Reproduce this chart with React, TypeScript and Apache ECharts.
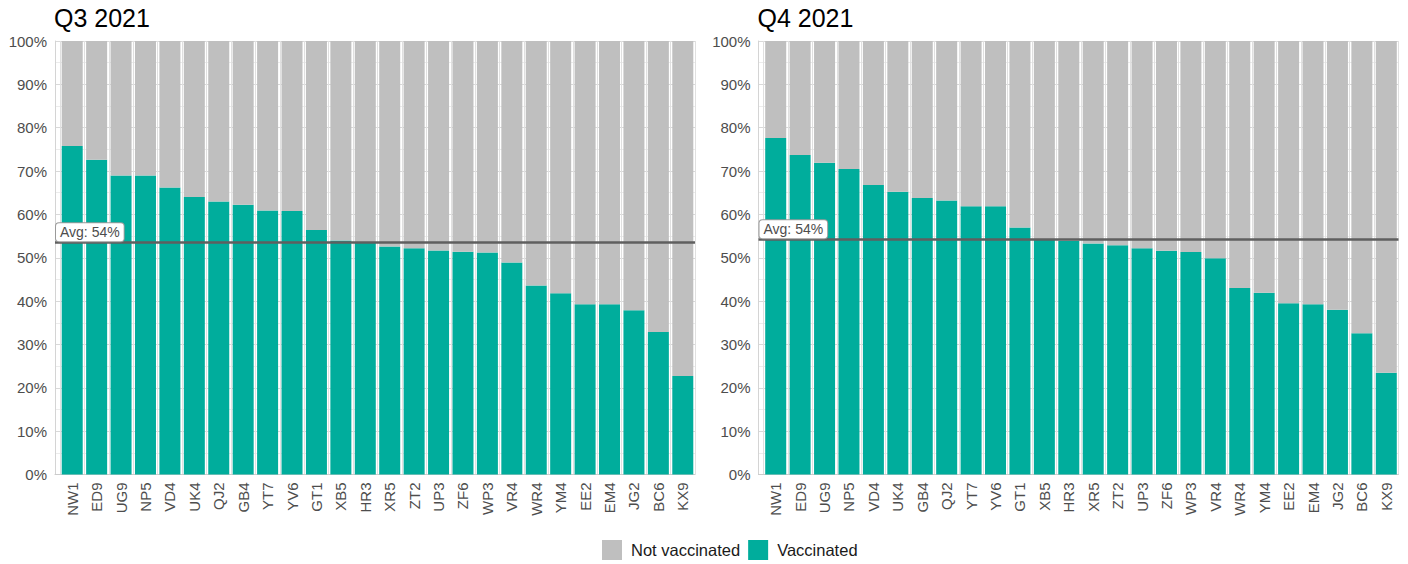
import React, { useEffect, useRef } from "react";
import * as echarts from "echarts";

const categoriesQ3 = ["NW1","ED9","UG9","NP5","VD4","UK4","QJ2","GB4","YT7","YV6","GT1","XB5","HR3","XR5","ZT2","UP3","ZF6","WP3","VR4","WR4","YM4","EE2","EM4","JG2","BC6","KX9"];
const vaccinatedQ3 = [75.8,72.6,69.0,69.0,66.2,64.0,63.0,62.2,60.9,60.8,56.4,54.0,53.5,52.6,52.2,51.7,51.4,51.2,48.9,43.6,41.8,39.3,39.3,37.9,32.9,22.7];

const categoriesQ4 = ["NW1","ED9","UG9","NP5","VD4","UK4","GB4","QJ2","YT7","YV6","GT1","XB5","HR3","XR5","ZT2","UP3","ZF6","WP3","VR4","WR4","YM4","EE2","EM4","JG2","BC6","KX9"];
const vaccinatedQ4 = [77.6,73.7,71.9,70.5,66.8,65.2,63.8,63.2,61.9,61.9,57.0,54.1,53.9,53.3,52.9,52.2,51.6,51.3,49.9,43.0,41.9,39.5,39.3,38.0,32.6,23.5];

const panelTitles = ["Q3 2021", "Q4 2021"];
const yTicks = [0, 10, 20, 30, 40, 50, 60, 70, 80, 90, 100];

const FONT = "'Liberation Sans', Arial, sans-serif";
const TEAL = "#00ad9c";
const GREY = "#bfbfbf";
const AXIS_TEXT = "#4d4d4d";

const complement = (arr: number[]) => arr.map((v) => Math.round((100 - v) * 10) / 10);
const mean = (arr: number[]) => arr.reduce((a, b) => a + b, 0) / arr.length;

export default function App() {
  const ref = useRef<HTMLDivElement>(null);
  useEffect(() => {
    if (!ref.current) return;
    const chart = echarts.init(ref.current, undefined, { renderer: "svg" });
    const panels = [
      { cats: categoriesQ3, vac: vaccinatedQ3, bgLeft: 55, barLeft: 60 },
      { cats: categoriesQ4, vac: vaccinatedQ4, bgLeft: 758.5, barLeft: 763.5 },
    ];
    const top = 41;
    const height = 433.5;
    const grids: any[] = [];
    const xAxes: any[] = [];
    const yAxes: any[] = [];
    const series: any[] = [];
    panels.forEach((p, i) => {
      const bgIdx = i * 2;
      const barIdx = i * 2 + 1;
      grids.push({ left: p.bgLeft, top, width: 640, height });
      grids.push({ left: p.barLeft, top, width: 635, height });
      xAxes.push({
        gridIndex: bgIdx, type: "value", min: 0, max: 1,
        axisLabel: { show: false }, axisTick: { show: false }, splitLine: { show: false },
        axisLine: { show: true, lineStyle: { color: "#cccccc", width: 1 } },
      });
      xAxes.push({
        gridIndex: barIdx, type: "category", data: p.cats, boundaryGap: true,
        axisLine: { show: false }, axisTick: { show: false },
        splitLine: { show: true, lineStyle: { color: "#e0e0e0", width: 1 } },
        axisLabel: { rotate: 90, margin: 8, fontSize: 15, color: AXIS_TEXT, fontFamily: FONT, interval: 0 },
      });
      yAxes.push({
        gridIndex: bgIdx, type: "value", min: yTicks[0], max: yTicks[yTicks.length - 1], interval: 10,
        axisLine: { show: true, lineStyle: { color: "#d4d4d4", width: 1 } },
        axisTick: { show: false },
        axisLabel: { formatter: "{value}%", fontSize: 15, color: AXIS_TEXT, fontFamily: FONT, margin: 8 },
        splitLine: { show: true, lineStyle: { color: "#d9d9d9", width: 1 } },
        minorTick: { show: false, splitNumber: 2 },
        minorSplitLine: { show: true, lineStyle: { color: "#ececec", width: 1 } },
      });
      yAxes.push({
        gridIndex: barIdx, type: "value", min: 0, max: 100, show: false,
        splitLine: { show: false },
      });
      const avg = mean(p.vac);
      series.push({
        name: "avg" + i, type: "line", data: [], xAxisIndex: bgIdx, yAxisIndex: bgIdx,
        z: 10,
        markLine: {
          silent: true, symbol: "none",
          lineStyle: { color: "#5f5f5f", width: 2.5, type: "solid" },
          label: {
            show: true, position: "insideStartTop", formatter: "Avg: " + Math.round(avg) + "%",
            backgroundColor: "#ffffff", borderColor: "#9a9a9a", borderWidth: 1, borderRadius: 3,
            padding: [2, 4, 2, 4], color: AXIS_TEXT, fontSize: 14, fontFamily: FONT, distance: [1, 1],
          },
          data: [{ yAxis: avg }],
        },
      });
      series.push({
        name: "Vaccinated", type: "bar", stack: "s" + i, xAxisIndex: barIdx, yAxisIndex: barIdx,
        data: p.vac, barCategoryGap: "14%", itemStyle: { color: TEAL },
      });
      series.push({
        name: "Not vaccinated", type: "bar", stack: "s" + i, xAxisIndex: barIdx, yAxisIndex: barIdx,
        data: complement(p.vac), barCategoryGap: "14%", itemStyle: { color: GREY },
      });
    });

    chart.setOption({
      animation: false,
      textStyle: { fontFamily: FONT },
      title: panelTitles.map((t, i) => ({
        text: t, left: panels[i].bgLeft - 1, top: 5, padding: 0,
        textStyle: { fontSize: 25, fontWeight: "normal", color: "#000000", fontFamily: FONT },
      })),
      legend: {
        data: ["Not vaccinated", "Vaccinated"], left: 602, top: 540, padding: 0,
        icon: "rect", itemWidth: 20, itemHeight: 20, itemGap: 8,
        textStyle: { fontSize: 16.5, color: "#1a1a1a", fontFamily: FONT, padding: [0, 0, 0, 4] },
      },
      grid: grids,
      xAxis: xAxes,
      yAxis: yAxes,
      series,
    });
    return () => chart.dispose();
  }, []);
  return (
    <div
      ref={ref}
      style={{ position: "fixed", left: 0, top: 0, width: 1408, height: 564, background: "#ffffff" }}
    />
  );
}
